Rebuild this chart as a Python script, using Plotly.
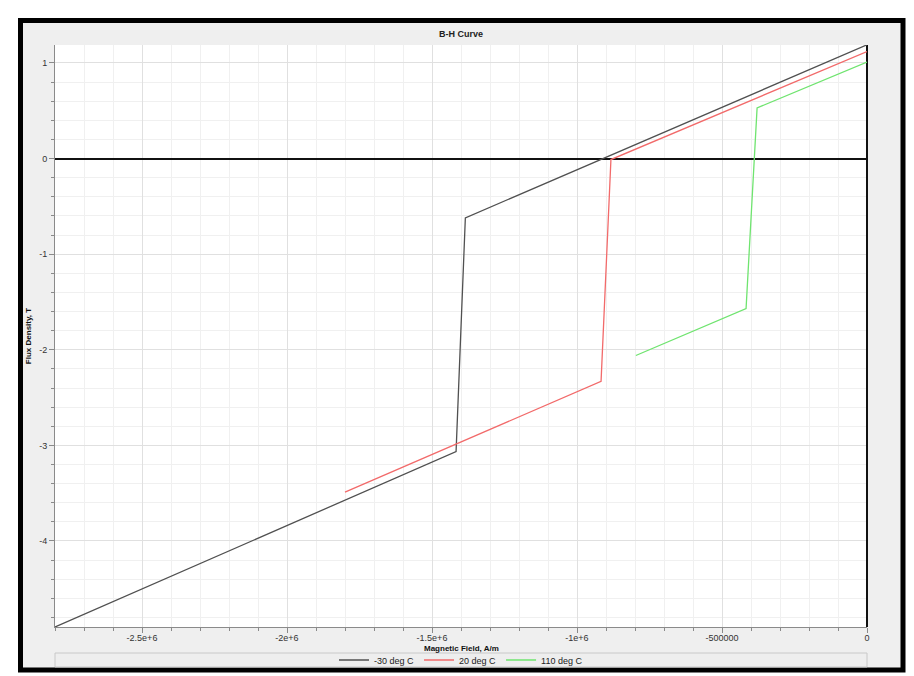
import plotly.graph_objects as go

# ---- data ----
series_names = ["-30 deg C", "20 deg C", "110 deg C"]
H_m30 = [-2.8e6, -1.417e6, -1.385e6, 0]
B_m30 = [-4.90, -3.065, -0.62, 1.19]
H_20 = [-1.80e6, -0.917e6, -0.883e6, 0]
B_20 = [-3.49, -2.33, -0.01, 1.12]
H_110 = [-0.797e6, -0.417e6, -0.379e6, 0]
B_110 = [-2.06, -1.57, 0.53, 1.01]
x_tickvals = [-2.5e6, -2e6, -1.5e6, -1e6, -5e5, 0]
x_ticktext = ["-2.5e+6", "-2e+6", "-1.5e+6", "-1e+6", "-500000", "0"]
y_tickvals = [1, 0, -1, -2, -3, -4]
y_ticktext = ["1", "0", "-1", "-2", "-3", "-4"]

OFF = 8  # default page body margin
W, H = 914 - OFF, 676 - OFF
L, R, T, B = 55 - OFF, 867 - OFF, 45 - OFF, 627 - OFF
FONT = "Liberation Sans"

def px(x):
    return (x - OFF - L) / (R - L)

def py(y):
    return (B - (y - OFF)) / (B - T)

fig = go.Figure()
colors = ["#505050", "#f26a6a", "#6fe46f"]
for name, hs, bs, c in zip(series_names, [H_m30, H_20, H_110], [B_m30, B_20, B_110], colors):
    fig.add_trace(go.Scatter(x=hs, y=bs, mode="lines", name=name,
                             line=dict(color=c, width=1.3)))

shapes = [
    dict(type="rect", xref="paper", yref="paper", layer="below",
         x0=px(20.5), x1=px(903), y0=py(20.5), y1=py(670),
         line=dict(color="black", width=5), fillcolor="#efefef"),
    dict(type="rect", xref="paper", yref="paper", layer="below",
         x0=0, x1=1, y0=0, y1=1, line=dict(width=0), fillcolor="white"),
    dict(type="rect", xref="paper", yref="paper", layer="below",
         x0=0, x1=1, y0=py(653), y1=py(667),
         line=dict(color="#c8c8c8", width=1), fillcolor="#eeeeee"),
]

axis_common = dict(
    automargin=False,
    showline=True, linecolor="#8a8a8a", linewidth=1,
    ticks="outside", ticklen=5, tickcolor="#8a8a8a",
    tickfont=dict(family=FONT, size=9, color="#333333"),
    showgrid=True, gridcolor="#e0e0e0", gridwidth=1,
    zeroline=True, zerolinecolor="#111111", zerolinewidth=2,
)

fig.update_layout(
    width=W, height=H,
    margin=dict(l=L, r=W - R, t=T, b=H - B, autoexpand=False),
    paper_bgcolor="white", plot_bgcolor="rgba(0,0,0,0)",
    font=dict(family=FONT, size=9, color="#222222"),
    title=dict(text="B-H Curve", x=0.5, xanchor="center",
               y=1 - (34 - OFF) / H, yanchor="middle", yref="container",
               font=dict(family=FONT, size=9, color="#222222", weight="bold")),
    xaxis=dict(range=[-2.8e6, 0], tickvals=x_tickvals, ticktext=x_ticktext,
               ticklabelstandoff=-3,
               minor=dict(dtick=100000, tick0=0, ticks="outside", ticklen=3,
                          tickcolor="#8a8a8a", showgrid=True, gridcolor="#f0f0f0"),
               **axis_common),
    yaxis=dict(range=[-4.90, 1.188], tickvals=y_tickvals, ticktext=y_ticktext,
               title=dict(text="Flux Density, T", standoff=6,
                          font=dict(family=FONT, size=8, color="#111111", weight="bold")),
               minor=dict(dtick=0.2, tick0=0, ticks="outside", ticklen=3,
                          tickcolor="#8a8a8a", showgrid=True, gridcolor="#f0f0f0"),
               **axis_common),
    legend=dict(orientation="h", x=0.5, xanchor="center", xref="paper",
                y=1 - (660 - OFF) / H, yanchor="middle", yref="container",
                bgcolor="rgba(0,0,0,0)", borderwidth=0,
                font=dict(family=FONT, size=9, color="#222222"),
                itemwidth=30, tracegroupgap=0),
    shapes=shapes,
    annotations=[dict(text="Magnetic Field, A/m", xref="paper", yref="paper",
                      x=0.5, y=py(648.5), xanchor="center", yanchor="middle",
                      showarrow=False,
                      font=dict(family=FONT, size=8, color="#111111", weight="bold"))],
)

fig.write_html("out.html")
